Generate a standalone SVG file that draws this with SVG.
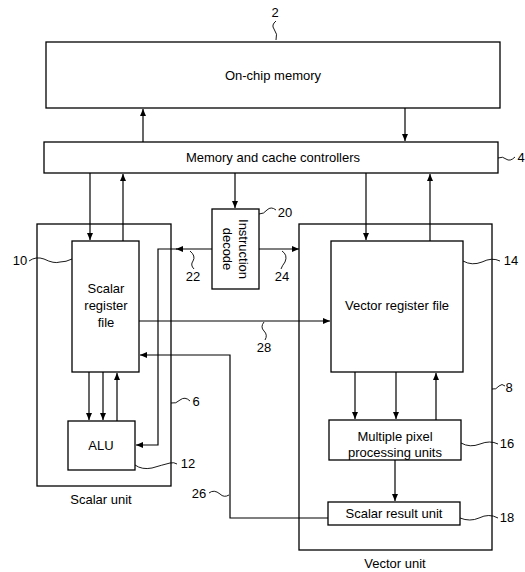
<svg xmlns="http://www.w3.org/2000/svg" width="525" height="572" viewBox="0 0 525 572">
<style>
rect.b{fill:#fff;stroke:#000;stroke-width:1.3}
rect.u{fill:none;stroke:#000;stroke-width:1.3}
text{font-family:"Liberation Sans",Arial,sans-serif;font-size:13px;fill:#000;text-anchor:middle}
.c path,.c polyline,.c line{fill:none;stroke:#000;stroke-width:1.2}
.s path{fill:none;stroke:#000;stroke-width:0.9}
</style>
<defs>
<marker id="a" markerWidth="8" markerHeight="8" refX="7" refY="4" orient="auto" markerUnits="userSpaceOnUse">
<path d="M0,1 L7,4 L0,7 Z" fill="#000"/>
</marker>
</defs>
<rect width="525" height="572" fill="#fff"/>
<g id="scalar-unit"><rect class="u" x="37" y="224" width="134" height="262"/><text x="101" y="504">Scalar unit</text></g>
<g id="vector-unit"><rect class="u" x="299" y="224" width="193" height="326"/><text x="395" y="568">Vector unit</text></g>
<g id="on-chip-memory"><rect class="b" x="46" y="42" width="454" height="66"/><text x="273" y="80">On-chip memory</text></g>
<g id="controllers"><rect class="b" x="44" y="142" width="454" height="31"/><text x="273" y="162">Memory and cache controllers</text></g>
<g id="scalar-register-file"><rect class="b" x="72" y="241" width="67" height="131"/><text x="106" y="293">Scalar</text><text x="106" y="310">register</text><text x="106" y="327">file</text></g>
<g id="instruction-decode"><rect class="b" x="212" y="209" width="47" height="80"/><text transform="translate(235,249) rotate(90)"><tspan x="0" y="-4">Instruction</tspan><tspan x="0" y="12">decode</tspan></text></g>
<g id="vector-register-file"><rect class="b" x="331" y="241" width="132" height="131"/><text x="397" y="310">Vector register file</text></g>
<g id="alu"><rect class="b" x="68" y="421" width="67" height="49"/><text x="101" y="450">ALU</text></g>
<g id="mppu"><rect class="b" x="329" y="420" width="132" height="40"/><text x="395" y="441">Multiple pixel</text><text x="395" y="457">processing units</text></g>
<g id="scalar-result-unit"><rect class="b" x="328" y="502" width="132" height="23"/><text x="394" y="518">Scalar result unit</text></g>
<g id="connectors" class="c">
<line x1="143" y1="142" x2="143" y2="109" marker-end="url(#a)"/>
<line x1="405" y1="108" x2="405" y2="141" marker-end="url(#a)"/>
<line x1="90" y1="173" x2="90" y2="240" marker-end="url(#a)"/>
<line x1="123" y1="241" x2="123" y2="174" marker-end="url(#a)"/>
<line x1="235" y1="173" x2="235" y2="208" marker-end="url(#a)"/>
<line x1="366" y1="173" x2="366" y2="240" marker-end="url(#a)"/>
<line x1="430" y1="241" x2="430" y2="174" marker-end="url(#a)"/>
<line x1="212" y1="249" x2="176" y2="249" marker-end="url(#a)"/>
<polyline points="177,249 158,249 158,445 136,445" marker-end="url(#a)"/>
<line x1="259" y1="249" x2="299" y2="249" marker-end="url(#a)"/>
<line x1="139" y1="321" x2="330" y2="321" marker-end="url(#a)"/>
<polyline points="328,518 230,518 230,355 140,355" marker-end="url(#a)"/>
<line x1="89" y1="372" x2="89" y2="420" marker-end="url(#a)"/>
<line x1="103" y1="372" x2="103" y2="420" marker-end="url(#a)"/>
<line x1="117" y1="421" x2="117" y2="373" marker-end="url(#a)"/>
<line x1="355" y1="372" x2="355" y2="419" marker-end="url(#a)"/>
<line x1="396" y1="372" x2="396" y2="419" marker-end="url(#a)"/>
<line x1="436" y1="420" x2="436" y2="373" marker-end="url(#a)"/>
<line x1="395" y1="460" x2="395" y2="501" marker-end="url(#a)"/>
</g>
<g id="labels" class="s">
<text x="275" y="17">2</text><path d="M276,21 Q271,25 274,29 Q278,34 276,40"/>
<text x="521" y="162">4</text><path d="M498,158 Q503,156 506,159 Q510,162 515,157"/>
<text x="20" y="265">10</text><path d="M29,261 Q36,256 44,259 Q54,264 60,262 Q66,262 72,259"/>
<text x="285" y="217">20</text><path d="M259,214 Q264,214 267,210 Q271,206 276,210"/>
<text x="193" y="281">22</text><path d="M190,251 Q196,256 193,261 Q190,265 194,269"/>
<text x="282" y="281">24</text><path d="M282,251 Q288,255 285,262 Q282,266 281,269"/>
<text x="511" y="265">14</text><path d="M463,261 Q472,266 482,262 Q492,257 500,261"/>
<text x="264" y="352">28</text><path d="M264,322 Q260,327 264,331 Q268,335 265,340"/>
<text x="199" y="498">26</text><path d="M209,493 Q214,489 220,494 Q224,498 229,495"/>
<text x="196" y="406">6</text><path d="M171,403 Q176,404 180,400 Q185,396 190,401"/>
<text x="188" y="468">12</text><path d="M135,465 Q142,470 152,468 Q162,465 170,463 Q174,462 177,464"/>
<text x="509" y="392">8</text><path d="M492,389 Q496,390 499,386 Q502,383 505,386"/>
<text x="507" y="448">16</text><path d="M461,443 Q470,448 480,444 Q490,440 498,444"/>
<text x="507" y="522">18</text><path d="M460,518 Q470,522 479,518 Q489,513 498,518"/>
</g>
</svg>
